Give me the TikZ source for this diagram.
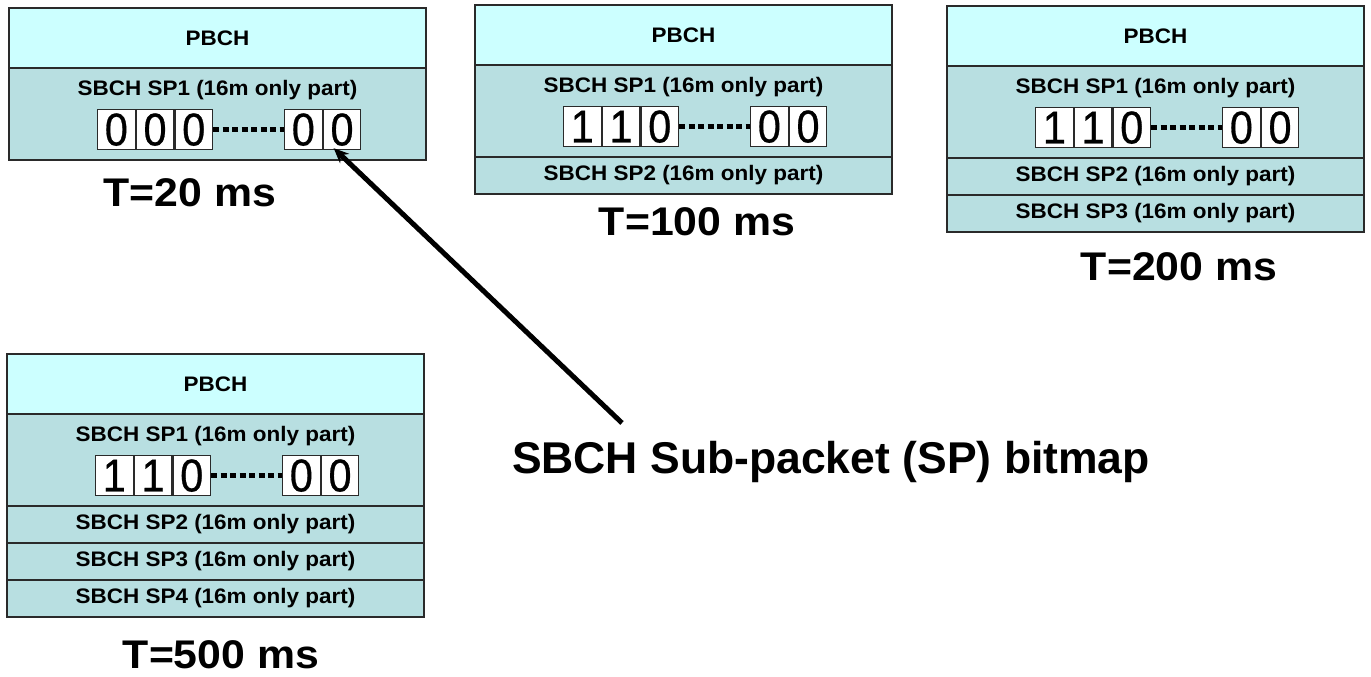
\documentclass[tikz,border=0pt]{standalone}
\usepackage{fontspec}
\setmainfont{Liberation Sans}
\newfontfamily\widesans[FakeStretch=1.07]{Liberation Sans}
\newfontfamily\digitsans[FakeStretch=0.9,FakeBold=0.6]{Liberation Sans}
\usetikzlibrary{calc,arrows.meta}

\definecolor{pbchcol}{HTML}{CCFFFF}
\definecolor{sbchcol}{HTML}{B8DFE1}
\definecolor{edgecol}{HTML}{2A2A2A}

\tikzset{
  x=1pt, y=-1pt,
  frame/.style={draw=edgecol, line width=1.3pt, inner sep=0pt, outer sep=0pt,
    minimum width=417pt},
  pbch/.style={frame, fill=pbchcol, minimum height=60pt,
    font=\widesans\bfseries\fontsize{21}{21}\selectfont},
  sphead/.style={frame, fill=sbchcol, minimum height=92pt},
  sprow/.style={frame, fill=sbchcol, minimum height=37pt,
    font=\widesans\bfseries\fontsize{21}{21}\selectfont},
  sptext/.style={inner sep=0pt, font=\widesans\bfseries\fontsize{21}{21}\selectfont},
  bit/.style={draw=edgecol, line width=1.2pt, fill=white, inner sep=0pt,
    minimum width=37.5pt, minimum height=40pt, anchor=north west,
    font=\digitsans\fontsize{46}{46}\selectfont},
  gap/.style={line width=5pt, dash pattern=on 6pt off 3.5pt},
  period/.style={inner sep=0pt, font=\widesans\bfseries\fontsize{40}{40}\selectfont},
  callout/.style={inner sep=0pt, font=\bfseries\fontsize{44.5}{44.5}\selectfont},
  pointer/.style={line width=5pt, -{Stealth[length=15pt,width=13pt]}},
}

% PBCH block, SP1 block with its caption, and the bitmap row
\newcommand\chanhead[6]{% #1 name, #2 left, #3 top, #4-#6 first three bits
  \node[pbch, anchor=north west] (#1-p) at (#2,#3) {PBCH};
  \node[sphead, anchor=north west] (#1-s1) at (#1-p.south west) {};
  \node[sptext] (#1-t1) at ($(#1-s1.north)+(0,22)$) {SBCH SP1 (16m only part)};
  \node[bit] (#1-c1) at ($(#1-s1.north west)+(88,41)$) {#4};
  \node[bit] (#1-c2) at (#1-c1.north east) {#5};
  \node[bit] (#1-c3) at (#1-c2.north east) {#6};
  \node[bit] (#1-c4) at ($(#1-s1.north west)+(275,41)$) {0};
  \node[bit] (#1-c5) at (#1-c4.north east) {0};
  \draw[gap] (#1-c3.east) -- (#1-c4.west);
}

\begin{document}
\begin{tikzpicture}
\useasboundingbox (0,0) rectangle (1371,677);

% T = 20 ms
\chanhead{a}{9}{8}{0}{0}{0}
\node[period] (ta) at (190,193) {T=20 ms};

% T = 100 ms
\chanhead{b}{475}{5}{1}{1}{0}
\node[sprow, anchor=north west] (b-s2) at (b-s1.south west) {SBCH SP2 (16m only part)};
\node[period] (tb) at (697,222) {T=100 ms};

% T = 200 ms
\chanhead{c}{947}{6}{1}{1}{0}
\node[sprow, anchor=north west] (c-s2) at (c-s1.south west) {SBCH SP2 (16m only part)};
\node[sprow, anchor=north west] (c-s3) at (c-s2.south west) {SBCH SP3 (16m only part)};
\node[period] (tc) at (1179,267) {T=200 ms};

% T = 500 ms
\chanhead{d}{7}{354}{1}{1}{0}
\node[sprow, anchor=north west] (d-s2) at (d-s1.south west) {SBCH SP2 (16m only part)};
\node[sprow, anchor=north west] (d-s3) at (d-s2.south west) {SBCH SP3 (16m only part)};
\node[sprow, anchor=north west] (d-s4) at (d-s3.south west) {SBCH SP4 (16m only part)};
\node[period] (td) at (221,655) {T=500 ms};

% callout pointing at the last bit of the 20 ms bitmap
\node[callout] (note) at (831,462) {SBCH Sub-packet (SP) bitmap};
\coordinate (tail) at (622,423);
\coordinate (tip) at ($(a-c5.south west)+(11,-2)$);
\draw[pointer] (tail) -- (tip);
\end{tikzpicture}
\end{document}
